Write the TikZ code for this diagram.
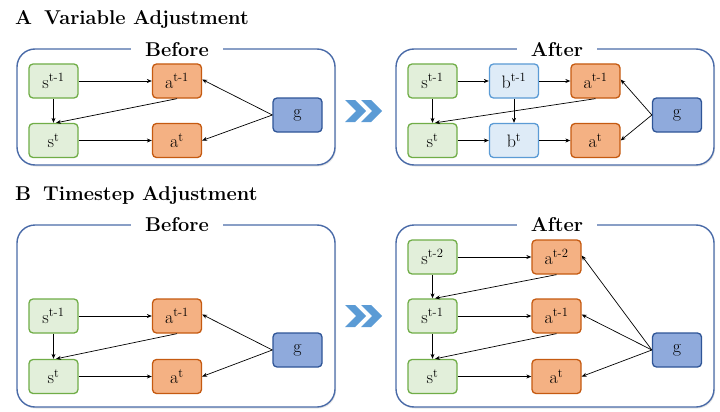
\documentclass[tikz,border=0pt]{standalone}
\usetikzlibrary{shadows,arrows.meta}
\definecolor{gfill}{HTML}{E2EFDA}
\definecolor{gdraw}{HTML}{70AD47}
\definecolor{ofill}{HTML}{F4B183}
\definecolor{odraw}{HTML}{C55A11}
\definecolor{bfill}{HTML}{DEEBF7}
\definecolor{bdraw}{HTML}{5B9BD5}
\definecolor{gnfill}{HTML}{8FAADC}
\definecolor{gndraw}{HTML}{2F5597}
\definecolor{panelc}{HTML}{4A6BA8}
\definecolor{chev}{HTML}{5B9BD5}
\tikzset{
  nbox/.style={rectangle, rounded corners=4pt, minimum width=49pt, minimum height=34pt, inner sep=0pt, line width=1.3pt, font=\fontsize{18}{20}\selectfont},
  sbox/.style={nbox, fill=gfill, draw=gdraw},
  abox/.style={nbox, fill=ofill, draw=odraw},
  bbox/.style={nbox, fill=bfill, draw=bdraw},
  gbox/.style={nbox, fill=gnfill, draw=gndraw},
  panel/.style={draw=panelc, line width=1.4pt, rounded corners=18pt, fill=white, drop shadow={opacity=0.2, shadow xshift=1pt, shadow yshift=-1.5pt}},
  plabel/.style={fill=white, inner xsep=14pt, inner ysep=2pt, font=\fontsize{20}{22}\selectfont\bfseries},
  title/.style={anchor=west, inner sep=0pt, font=\fontsize{20}{22}\selectfont\bfseries},
  conn/.style={-{Stealth[length=5pt,width=4pt]}, line width=0.7pt},
  chevron/.style={fill=chev, draw=none}
}
\begin{document}
\begin{tikzpicture}[x=1pt,y=-1pt]
\useasboundingbox (0,0) rectangle (720,412);
% titles
\node[title] (tA) at (15,20) {A\hspace{12pt}Variable Adjustment};
\node[title] (tB) at (15,195) {B\hspace{12pt}Timestep Adjustment};
% panels
\draw[panel] (17,49) rectangle (335,165);
\draw[panel] (396,49) rectangle (714,165);
\draw[panel] (17,225) rectangle (335,407);
\draw[panel] (396,225) rectangle (714,407);
\node[plabel] (lAB) at (177,50) {Before};
\node[plabel] (lAA) at (557,50) {After};
\node[plabel] (lBB) at (177,225) {Before};
\node[plabel] (lBA) at (557,225) {After};
% chevrons
\foreach \yc in {111,316}{
  \foreach \x in {345,361}{
    \fill[chev] (\x,\yc-11) -- (\x+10,\yc-11) -- (\x+21,\yc) -- (\x+10,\yc+11) -- (\x,\yc+11) -- (\x+11,\yc) -- cycle;
  }
}
% A before
\node[sbox] (ABs1) at (53.5,81) {s\textsuperscript{t-1}};
\node[abox] (ABa1) at (177,81) {a\textsuperscript{t-1}};
\node[sbox] (ABs0) at (53.5,140.5) {s\textsuperscript{t}};
\node[abox] (ABa0) at (177,140.5) {a\textsuperscript{t}};
\node[gbox] (ABg) at (297.5,115) {g};
\draw[conn] (ABs1) -- (ABa1);
\draw[conn] (ABs1) -- (ABs0);
\draw[conn] (ABa1.south) -- ([xshift=2.5pt]ABs0.north);
\draw[conn] (ABs0) -- (ABa0);
\draw[conn] (ABg.west) -- ([yshift=1.5pt]ABa1.east);
\draw[conn] (ABg.west) -- (ABa0.east);
% A after
\node[sbox] (AAs1) at (432.5,81) {s\textsuperscript{t-1}};
\node[bbox] (AAb1) at (514,81) {b\textsuperscript{t-1}};
\node[abox] (AAa1) at (595.5,81) {a\textsuperscript{t-1}};
\node[sbox] (AAs0) at (432.5,140.5) {s\textsuperscript{t}};
\node[bbox] (AAb0) at (514,140.5) {b\textsuperscript{t}};
\node[abox] (AAa0) at (595.5,140.5) {a\textsuperscript{t}};
\node[gbox] (AAg) at (677,115) {g};
\draw[conn] (AAs1) -- (AAb1);
\draw[conn] (AAb1) -- (AAa1);
\draw[conn] (AAs1) -- (AAs0);
\draw[conn] (AAb1) -- (AAb0);
\draw[conn] (AAa1.south) -- ([xshift=2.5pt]AAs0.north);
\draw[conn] (AAs0) -- (AAb0);
\draw[conn] (AAb0) -- (AAa0);
\draw[conn] (AAg.west) -- ([yshift=1.5pt]AAa1.east);
\draw[conn] (AAg.west) -- (AAa0.east);
% B before
\node[sbox] (BBs1) at (53.5,316) {s\textsuperscript{t-1}};
\node[abox] (BBa1) at (177,316) {a\textsuperscript{t-1}};
\node[sbox] (BBs0) at (53.5,376.5) {s\textsuperscript{t}};
\node[abox] (BBa0) at (177,376.5) {a\textsuperscript{t}};
\node[gbox] (BBg) at (297.5,350) {g};
\draw[conn] (BBs1) -- (BBa1);
\draw[conn] (BBs1) -- (BBs0);
\draw[conn] (BBa1.south) -- ([xshift=2.5pt]BBs0.north);
\draw[conn] (BBs0) -- (BBa0);
\draw[conn] (BBg.west) -- ([yshift=1.5pt]BBa1.east);
\draw[conn] (BBg.west) -- (BBa0.east);
% B after
\node[sbox] (BAs2) at (432.5,257) {s\textsuperscript{t-2}};
\node[abox] (BAa2) at (556.5,257) {a\textsuperscript{t-2}};
\node[sbox] (BAs1) at (432.5,316) {s\textsuperscript{t-1}};
\node[abox] (BAa1) at (556.5,316) {a\textsuperscript{t-1}};
\node[sbox] (BAs0) at (432.5,376.5) {s\textsuperscript{t}};
\node[abox] (BAa0) at (556.5,376.5) {a\textsuperscript{t}};
\node[gbox] (BAg) at (677,350) {g};
\draw[conn] (BAs2) -- (BAa2);
\draw[conn] (BAs2) -- (BAs1);
\draw[conn] (BAa2.south) -- ([xshift=2.5pt]BAs1.north);
\draw[conn] (BAs1) -- (BAa1);
\draw[conn] (BAs1) -- (BAs0);
\draw[conn] (BAa1.south) -- ([xshift=2.5pt]BAs0.north);
\draw[conn] (BAs0) -- (BAa0);
\draw[conn] (BAg.west) -- ([yshift=1.5pt]BAa2.east);
\draw[conn] (BAg.west) -- ([yshift=1.5pt]BAa1.east);
\draw[conn] (BAg.west) -- (BAa0.east);
\end{tikzpicture}
\end{document}
